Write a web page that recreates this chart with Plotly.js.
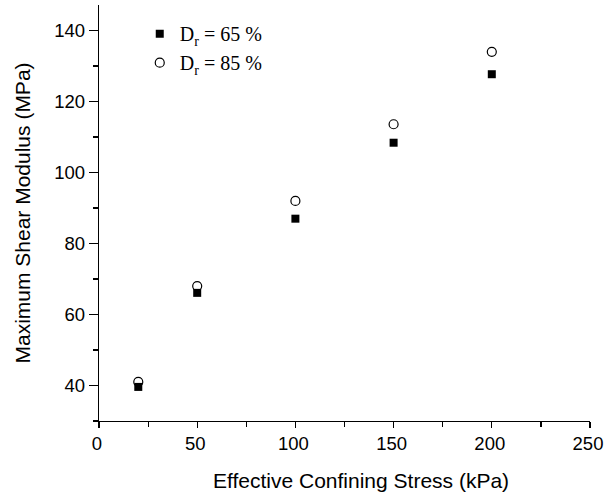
<!DOCTYPE html>
<html>
<head>
<meta charset="utf-8">
<script src="https://cdn.plot.ly/plotly-3.0.1.min.js"></script>
<style>
  html, body { margin: 0; padding: 0; background: #fff; }
  #chart { width: 604px; height: 495px; }
</style>
</head>
<body>
<div id="chart"></div>
<script>
// Effective confining stress (kPa)
const confiningStress = [20, 50, 100, 150, 200];
// Maximum shear modulus (MPa) for two relative densities
const gmaxDr65 = [39.6, 66.1, 87.0, 108.4, 127.7];
const gmaxDr85 = [41.0, 68.0, 92.0, 113.6, 134.0];
const seriesNames = ['D<sub>r</sub> = 65 %', 'D<sub>r</sub> = 85 %'];
const xTitle = 'Effective Confining Stress (kPa)';
const yTitle = 'Maximum Shear Modulus (MPa)';

const tickFont = { family: 'Liberation Sans, Arial, sans-serif', size: 18.5, color: '#000' };
const titleFont = { family: 'Liberation Sans, Arial, sans-serif', size: 21, color: '#000' };

const traces = [
  {
    x: confiningStress, y: gmaxDr65, name: seriesNames[0],
    type: 'scatter', mode: 'markers',
    marker: { symbol: 'square', size: 8, color: '#000', line: { width: 0 } }
  },
  {
    x: confiningStress, y: gmaxDr85, name: seriesNames[1],
    type: 'scatter', mode: 'markers',
    marker: { symbol: 'circle-open', size: 9, color: '#000', line: { width: 1.2, color: '#000' } }
  }
];

const layout = {
  width: 604, height: 495,
  margin: { l: 99, r: 14, t: 5, b: 74 },
  paper_bgcolor: '#fff', plot_bgcolor: '#fff',
  showlegend: true,
  legend: {
    x: 0.083, y: 0.978, xanchor: 'left', yanchor: 'top',
    bgcolor: 'rgba(0,0,0,0)', borderwidth: 0,
    font: { family: 'Liberation Serif, Times New Roman, serif', size: 20, color: '#000' },
    tracegroupgap: 0
  },
  xaxis: {
    range: [0, 250], tick0: 0, dtick: 50,
    showgrid: false, zeroline: false,
    showline: true, linecolor: '#000', linewidth: 1.2, mirror: false,
    ticks: 'outside', ticklen: 6, tickwidth: 1.2, tickcolor: '#000',
    minor: { dtick: 25, ticks: 'outside', ticklen: 5, tickwidth: 1.2, tickcolor: '#000' },
    tickfont: tickFont, ticklabeloverflow: 'allow', ticklabelshift: -2
  },
  yaxis: {
    range: [30, 147.2], tick0: 0, dtick: 20,
    showgrid: false, zeroline: false,
    showline: true, linecolor: '#000', linewidth: 1.2, mirror: false,
    ticks: 'outside', ticklen: 9, tickwidth: 1.2, tickcolor: '#000',
    minor: { dtick: 10, ticks: 'outside', ticklen: 5, tickwidth: 1.2, tickcolor: '#000' },
    tickfont: tickFont,
    title: { text: yTitle, font: titleFont, standoff: 17 }
  },
  annotations: [
    {
      text: xTitle, font: titleFont, showarrow: false,
      xref: 'paper', yref: 'paper', x: 0.5336, y: -0.1442,
      xanchor: 'center', yanchor: 'middle'
    }
  ]
};

Plotly.newPlot('chart', traces, layout, { displayModeBar: false, staticPlot: true });
</script>
</body>
</html>
